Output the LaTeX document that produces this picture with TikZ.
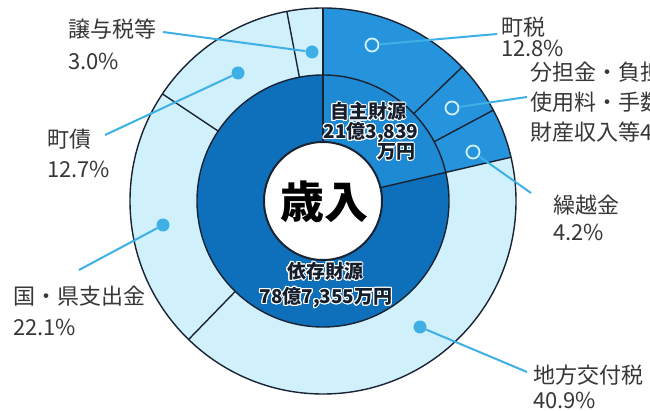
\documentclass[tikz,border=0pt]{standalone}
\usepackage{fontspec}
\setmainfont{Noto Sans CJK JP}
\usepackage{contour}
\contourlength{1pt}
\definecolor{darkring}{RGB}{14,112,186}
\definecolor{midring}{RGB}{38,148,220}
\definecolor{jishu}{RGB}{30,138,212}
\definecolor{lightring}{RGB}{208,240,252}
\definecolor{leadc}{RGB}{62,176,230}
\definecolor{edgec}{RGB}{25,35,50}
\definecolor{txt}{RGB}{55,55,55}
\definecolor{intxt}{RGB}{20,30,45}
\tikzset{
  edge/.style={draw=edgec, line width=1.4pt},
  lead/.style={draw=leadc, line width=2pt},
  dotf/.style={circle, fill=leadc, inner sep=0pt, minimum size=13pt},
  dotr/.style={circle, draw=lightring, line width=1.8pt, inner sep=0pt, minimum size=13pt},
  lbl/.style={anchor=west, inner sep=0pt, text=txt, font=\fontsize{22}{22}\selectfont},
  inlbl/.style={inner sep=0pt, text=intxt, font=\bfseries\fontsize{19}{19}\selectfont},
}
\begin{document}
\begin{tikzpicture}[x=1pt,y=-1pt]
\useasboundingbox (0,0) rectangle (650,411);
\fill[white] (0,0) rectangle (650,411);
\begin{scope}[shift={(323,201)}, y=1pt]
  % outer ring
  \fill[midring] (90:126) -- (90:193) arc[start angle=90, end angle=13.1, radius=193] -- (13.1:126) arc[start angle=13.1, end angle=90, radius=126] -- cycle;
  \fill[lightring] (13.1:126) -- (13.1:193) arc[start angle=13.1, end angle=-270, radius=193] -- (90:126) arc[start angle=-270, end angle=13.1, radius=126] -- cycle;
  % inner ring
  \fill[jishu] (90:59) -- (90:126) arc[start angle=90, end angle=13.1, radius=126] -- (13.1:59) arc[start angle=13.1, end angle=90, radius=59] -- cycle;
  \fill[darkring] (13.1:59) -- (13.1:126) arc[start angle=13.1, end angle=-270, radius=126] -- (90:59) arc[start angle=-270, end angle=13.1, radius=59] -- cycle;
  \fill[white] (0,0) circle[radius=59];
  % outlines
  \draw[edge] (0,0) circle[radius=193];
  \draw[edge] (0,0) circle[radius=126];
  \draw[edge, line width=2pt] (0,0) circle[radius=59];
  \draw[edge] (90:59) -- (90:193);
  \draw[edge] (13.1:59) -- (13.1:193);
  \draw[edge] (43.92:126) -- (43.92:193);
  \draw[edge] (28.08:126) -- (28.08:193);
  \draw[edge] (-134.14:126) -- (-134.14:193);
  \draw[edge] (146.3:126) -- (146.3:193);
  \draw[edge] (100.8:126) -- (100.8:193);
\end{scope}

% centre
\node[inner sep=0pt, font=\bfseries\fontsize{44}{44}\selectfont, text=black] (sainyu) at (324,202) {歳入};

% inner labels
\node[inlbl] (js1) at (368,112) {\contour{white}{自主財源}};
\node[inlbl] (js2) at (371,133) {\contour{white}{21億3,839}};
\node[inlbl] (js3) at (396,152) {\contour{white}{万円}};
\node[inlbl] (iz1) at (325,272) {\contour{white}{依存財源}};
\node[inlbl] (iz2) at (326,298) {\contour{white}{78億7,355万円}};

% dots
\node[dotf] (dJ) at (312,52) {};
\node[dotf] (dC) at (238,73) {};
\node[dotf] (dK) at (163,225) {};
\node[dotf] (dT) at (420,327) {};
\node[dotr] (dR) at (473,152) {};
\node[dotr] (dB) at (452,108) {};
\node[dotr] (dM) at (372,45) {};

% leader ends
\coordinate (eJ) at (163,32);
\coordinate (eC) at (105,135);
\coordinate (eK) at (79,270);
\coordinate (eT) at (527,372);
\coordinate (eR) at (531,193);
\coordinate (eB) at (527,97);
\coordinate (eM) at (497,34);

\draw[lead] (dJ) -- (eJ);
\draw[lead] (dC) -- (eC);
\draw[lead] (dK) -- (eK);
\draw[lead] (dT) -- (eT);
\draw[lead] (dR) -- (eR);
\draw[lead] (dB) -- (eB);
\draw[lead] (dM) -- (eM);

% labels
\node[lbl] (tJ1) at (68,29) {譲与税等};
\node[lbl] (tJ2) at (68,61) {3.0\%};
\node[lbl] (tC1) at (47,139) {町債};
\node[lbl] (tC2) at (47,169) {12.7\%};
\node[lbl] (tK1) at (13,296) {国・県支出金};
\node[lbl] (tK2) at (13,327) {22.1\%};
\node[lbl] (tT1) at (533,375) {地方交付税};
\node[lbl] (tT2) at (533,400) {40.9\%};
\node[lbl] (tR1) at (553,205) {繰越金};
\node[lbl] (tR2) at (553,232) {4.2\%};
\node[lbl] (tM1) at (501,27) {町税};
\node[lbl] (tM2) at (501,48) {12.8\%};
\node[lbl] (tB1) at (530,72) {分担金・負担};
\node[lbl] (tB2) at (530,102) {使用料・手数};
\node[lbl] (tB3) at (530,132) {財産収入等4};
\end{tikzpicture}
\end{document}
